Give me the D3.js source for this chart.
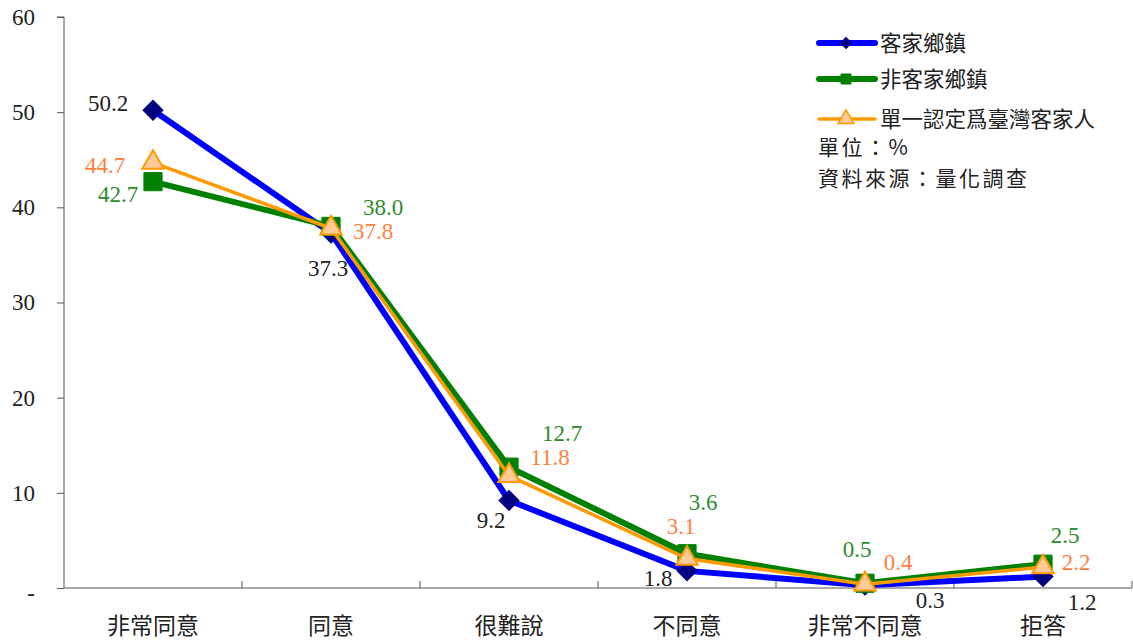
<!DOCTYPE html>
<html><head><meta charset="utf-8">
<script src="https://cdn.jsdelivr.net/npm/d3@7"></script>
<style>
body{margin:0;background:#fff;}
svg{display:block;}
.num{font-family:"Liberation Serif","DejaVu Serif",serif;}
.cjk{font-family:"Noto Sans CJK TC","Noto Sans CJK SC",sans-serif;}
</style></head><body>
<svg id="chart" width="1133" height="641"></svg>
<script>
const categories = ["非常同意","同意","很難說","不同意","非常不同意","拒答"];
const hakkaTowns = [50.2, 37.3, 9.2, 1.8, 0.3, 1.2];
const nonHakkaTowns = [42.7, 38.0, 12.7, 3.6, 0.5, 2.5];
const singleHakka = [44.7, 37.8, 11.8, 3.1, 0.4, 2.2];
const seriesNames = ["客家鄉鎮","非客家鄉鎮","單一認定爲臺灣客家人"];
const yTicks = [0,10,20,30,40,50,60];
const noteLines = ["單位：%","資料來源：量化調查"];

// label offsets (style only)
const labelOffsets = [
  [[-45,-7],[-3,35],[-18,20],[-29,7],[65,15],[39,25]],
  [[-35,12],[52,-19],[53,-34],[16,-52],[-8,-34],[22,-29]],
  [[-48,2],[42,3],[41,-19],[-6,-33],[33,-22],[33,-5]]
];

(function(){
const svg = d3.select("#chart");
const mL = 64, mR = 1132, mT = 17, mB = 588;

const x = d3.scaleBand().domain(categories).range([mL,mR]);
const y = d3.scaleLinear().domain([0,60]).range([mB,mT]);

// axes
const yAxis = svg.append("g").attr("transform",`translate(${mL},0)`)
  .call(d3.axisLeft(y).tickValues(yTicks).tickSize(7).tickPadding(22).tickFormat(d=>d===0?"-":d));
yAxis.attr("font-family",null).attr("font-size",null);
yAxis.select(".domain").attr("stroke","#555").attr("d",`M-7,${mT}H0V${mB}`);
yAxis.selectAll(".tick line").attr("stroke","#555");
yAxis.selectAll(".tick text").attr("class","num").style("font-size","23px").attr("fill","#222")
  .attr("dy",d=>d===0?"0.55em":"0.32em");

const xAxis = svg.append("g").attr("transform",`translate(0,${mB})`);
xAxis.append("line").attr("x1",mL).attr("x2",mR).attr("stroke","#555").attr("stroke-width",1.2);
const bounds = categories.map(c=>x(c)+x.bandwidth());
xAxis.selectAll("line.tk").data(bounds).join("line").attr("class","tk")
  .attr("x1",d=>d).attr("x2",d=>d).attr("y1",0).attr("y2",-7).attr("stroke","#555");
xAxis.selectAll("text").data(categories).join("text").attr("class","cjk")
  .attr("x",d=>x(d)+x.bandwidth()/2).attr("y",38).attr("dy","0.35em")
  .attr("text-anchor","middle").style("font-size","23px").attr("fill","#222")
  .text(d=>d);

const series = [
  {name:seriesNames[0], values:hakkaTowns, line:"#0000ff", width:6, marker:"diamond", fill:"#000080", stroke:"#000080", label:"#222"},
  {name:seriesNames[1], values:nonHakkaTowns, line:"#008000", width:6, marker:"square", fill:"#008000", stroke:"#008000", label:"#2e8b2e"},
  {name:seriesNames[2], values:singleHakka, line:"#ff9900", width:3.5, marker:"triangle", fill:"#ffcc99", stroke:"#ff9900", label:"#ff7f3f"}
];
const cx = c => x(c)+x.bandwidth()/2;
const symType = {diamond:d3.symbolSquare, square:d3.symbolSquare, triangle:d3.symbolTriangle};
const symSize = {diamond:200, square:330, triangle:200};
const rot = m => m==="diamond" ? " rotate(45)" : "";

series.forEach((s,si)=>{
  const pts = categories.map((c,i)=>[cx(c), y(s.values[i])]);
  svg.append("path").attr("d",d3.line()(pts)).attr("fill","none")
    .attr("stroke",s.line).attr("stroke-width",s.width).attr("stroke-linejoin","miter");
  svg.selectAll(null).data(pts).join("path")
    .attr("transform",d=>`translate(${d[0]},${d[1]})${rot(s.marker)}`)
    .attr("d",d3.symbol().type(symType[s.marker]).size(symSize[s.marker]))
    .attr("fill",s.fill).attr("stroke",s.stroke).attr("stroke-width",s.marker==="triangle"?2:1);
});
series.forEach((s,si)=>{
  svg.selectAll(null).data(s.values).join("text").attr("class","num")
    .attr("x",(d,i)=>cx(categories[i])+labelOffsets[si][i][0])
    .attr("y",(d,i)=>y(d)+labelOffsets[si][i][1])
    .attr("dy","0.35em").attr("text-anchor","middle")
    .style("font-size","23px").attr("fill",s.label)
    .text(d=>d.toFixed(1));
});

// legend
const lg = svg.append("g");
const legY = [43, 79, 119];
series.forEach((s,i)=>{
  lg.append("line").attr("x1",819).attr("x2",875).attr("y1",legY[i]).attr("y2",legY[i])
    .attr("stroke",s.line).attr("stroke-width",s.width).attr("stroke-linecap","round");
  lg.append("path").attr("transform",`translate(846,${legY[i]})${rot(s.marker)}`)
    .attr("d",d3.symbol().type(symType[s.marker]).size(s.marker==="square"?100:s.marker==="triangle"?110:60))
    .attr("fill",s.fill).attr("stroke",s.stroke).attr("stroke-width",s.marker==="triangle"?1.5:1);
  lg.append("text").attr("class","cjk").attr("x",880).attr("y",legY[i]).attr("dy","0.36em")
    .style("font-size","21.5px").attr("fill","#222").text(s.name);
});
noteLines.forEach((t,i)=>{
  lg.append("text").attr("class","cjk").attr("x",818).attr("y",147+i*31).attr("dy","0.36em")
    .style("font-size","21px").style("letter-spacing","2.5px").attr("fill","#222").text(t);
});
})();
</script>
</body></html>
